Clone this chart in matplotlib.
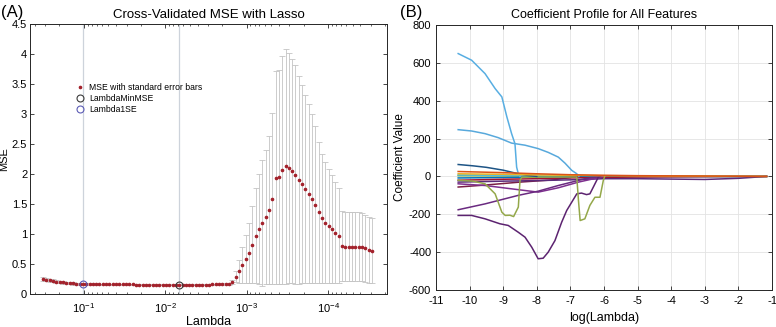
import numpy as np
import matplotlib
matplotlib.use("Agg")
import matplotlib.pyplot as plt
from matplotlib.ticker import FixedLocator, FuncFormatter

plt.rcParams['font.family'] = ['Liberation Sans', 'DejaVu Sans']
plt.rcParams['axes.unicode_minus'] = False

# ---------------- Panel A data ----------------
LAMBDA_MAX = 10 ** -0.497
LAMBDA_MIN = 10 ** -4.538

MSE_LEFT = [0.255, 0.240, 0.228, 0.217, 0.207, 0.199, 0.192, 0.186, 0.181, 0.176,
            0.172, 0.169, 0.166, 0.165, 0.164, 0.164, 0.163, 0.163, 0.162, 0.162,
            0.161, 0.161, 0.160, 0.160, 0.160, 0.159, 0.159, 0.159, 0.158, 0.158,
            0.158, 0.157, 0.157, 0.157, 0.157, 0.156, 0.156, 0.156, 0.156, 0.156,
            0.155, 0.155, 0.155, 0.155, 0.156, 0.156, 0.156, 0.157, 0.157, 0.158,
            0.158, 0.159, 0.160, 0.161, 0.163, 0.166, 0.172]
SE_LEFT = [0.030, 0.028, 0.026, 0.025, 0.024, 0.022, 0.021, 0.020, 0.019, 0.018,
           0.017, 0.016, 0.015, 0.014, 0.014, 0.013, 0.013, 0.012, 0.012, 0.012,
           0.012, 0.012, 0.012, 0.012, 0.012, 0.012, 0.012, 0.012, 0.012, 0.012,
           0.012, 0.012, 0.012, 0.012, 0.012, 0.012, 0.012, 0.012, 0.012, 0.012,
           0.012, 0.012, 0.012, 0.012, 0.012, 0.012, 0.012, 0.012, 0.012, 0.012,
           0.012, 0.012, 0.013, 0.013, 0.014, 0.015, 0.018]
MSE_RISE = [0.20, 0.29, 0.38, 0.48, 0.58, 0.68, 0.82, 0.97, 1.08, 1.19,
            1.28, 1.40, 1.59, 1.94, 1.95, 2.07, 2.13, 2.10, 2.05, 1.99,
            1.90, 1.83, 1.75, 1.67, 1.59, 1.49, 1.36, 1.26, 1.19, 1.13,
            1.08, 1.02, 0.97, 0.80, 0.79, 0.79, 0.79, 0.79, 0.79, 0.78,
            0.76, 0.74, 0.72]
SE_RISE = [0.03, 0.09, 0.19, 0.30, 0.40, 0.50, 0.64, 0.79, 0.92, 1.05,
           1.12, 1.24, 1.42, 1.77, 1.78, 1.90, 1.96, 1.92, 1.87, 1.82,
           1.73, 1.65, 1.57, 1.49, 1.41, 1.31, 1.18, 1.08, 1.01, 0.95,
           0.90, 0.84, 0.79, 0.59, 0.58, 0.58, 0.58, 0.58, 0.58, 0.57,
           0.56, 0.55, 0.54]
IDX_1SE = 12
IDX_MIN = 41
A_XTICKS = [1e-1, 1e-2, 1e-3, 1e-4]
A_YTICKS = [0, 0.5, 1, 1.5, 2, 2.5, 3, 3.5, 4, 4.5]

# ---------------- Panel B data ----------------
B_XTICKS = [-11, -10, -9, -8, -7, -6, -5, -4, -3, -2, -1]
B_YTICKS = [-600, -400, -200, 0, 200, 400, 600, 800]

LOGL_BLUE_TOP = [-10.34, -9.94, -9.54, -9.24, -9.04, -8.89, -8.75, -8.65, -8.60, -8.55, -8.50]
COEF_BLUE_TOP = [649, 614, 543, 464, 420, 314, 226, 173, 49, 14, 0]

LOGL_BLUE_2 = [-10.34, -9.94, -9.54, -9.15, -8.75, -8.35, -7.96, -7.66, -7.36, -7.16, -6.96, -6.81, -6.75]
COEF_BLUE_2 = [247, 240, 226, 205, 176, 165, 147, 127, 102, 70, 32, 14, 0]

LOGL_NAVY = [-10.34, -9.9, -9.5, -9.0, -8.55, -8.3, -8.0]
COEF_NAVY = [63, 56, 48, 33, 14, 6, 0]

LOGL_GREEN = [-10.34, -9.9, -9.54, -9.24, -9.04, -8.94, -8.80, -8.69, -8.55, -8.50, -8.45,
              -8.0, -7.5, -7.0, -6.81, -6.76, -6.71, -6.57, -6.42, -6.27, -6.12, -6.02, -5.98]
COEF_GREEN = [-20, -25, -39, -92, -189, -206, -205, -212, -162, -21, -5,
              -4, -3, -3, -3, -127, -233, -224, -153, -110, -110, -21, 0]

LOGL_PURPLE_DIP = [-10.34, -9.94, -9.54, -9.10, -8.85, -8.55, -8.35, -8.15, -7.96, -7.81, -7.66,
                   -7.46, -7.26, -7.11, -6.96, -6.81, -6.67, -6.52, -6.42, -6.32, -6.17, -6.12]
COEF_PURPLE_DIP = [-206, -206, -224, -250, -259, -295, -321, -374, -435, -432, -400,
                   -339, -242, -180, -136, -92, -88, -96, -92, -57, -4, 0]

LOGL_PURPLE_LIN = [-10.34, -9.54, -8.55, -7.96, -7.36, -6.96, -6.57, -6.10]
COEF_PURPLE_LIN = [-176, -145, -100, -78, -48, -30, -12, 0]

LOGL_PURPLE_3 = [-10.34, -9.54, -8.55, -7.96, -7.36, -6.76, -6.00]
COEF_PURPLE_3 = [-39, -48, -70, -83, -60, -30, 0]

LOGL_DARKRED = [-10.34, -9.5, -8.5, -7.5, -6.8]
COEF_DARKRED = [-56, -45, -30, -18, 0]

NZ_LOGL = [-10.34, -9.0, -8.0, -7.0, -6.0, -5.0, -4.0, -3.0, -2.0, -1.16]
NZ_PURPLE_LONG = [-30, -25, -22, -18, -12, -12, -14, -16, -10, 0]
NZ_BLUE = [-8, -6, -4, -2, -1, 0, 0, 0, 0, 0]
NZ_DARKRED = [-20, -15, -12, -8, -5, -3, -2, -1, 0, 0]
NZ_LIGHTBLUE = [8, 6, 3, 0, 0, 0, 0, 0, 0, 0]
NZ_GREEN = [4, 3, 1, 0, 0, 0, 0, 0, 0, 0]
NZ_ORANGE = [26, 20, 14, 9, 6, 4, 3, 2, 1, 0]
NZ_YELLOW = [14, 11, 8, 6, 4, 3, 2, 1.5, 0.8, 0]

# ---------------- Figure ----------------
W, H = 776, 327
fig = plt.figure(figsize=(W / 100, H / 100), dpi=100)
axA = fig.add_axes([30 / W, 33 / H, 357 / W, 270 / H])
axB = fig.add_axes([436 / W, 37 / H, 336 / W, 265 / H])

SPINE = '#262626'

# Panel A
mse = np.array(MSE_LEFT + MSE_RISE)
se = np.array(SE_LEFT + SE_RISE)
lam = np.geomspace(LAMBDA_MAX, LAMBDA_MIN, len(mse))

axA.set_xscale('log')
axA.set_xlim(10 ** -0.337, 10 ** -4.724)
axA.set_ylim(0, 4.5)
axA.axvline(lam[IDX_1SE], color='#cdd3db', lw=0.9, zorder=1)
axA.axvline(lam[IDX_MIN], color='#cdd3db', lw=0.9, zorder=1)
axA.errorbar(lam, mse, yerr=se, fmt='none', ecolor='#c4c4c4', elinewidth=0.6,
             capsize=2.2, capthick=0.6, zorder=2)
hdot, = axA.plot(lam, mse, 'o', ms=1.6, color='#a3222c', mec='#a3222c', lw=0, zorder=3,
                 label='MSE with standard error bars')
hmin, = axA.plot([lam[IDX_MIN]], [mse[IDX_MIN]], 'o', ms=5, mfc='none', mec='#3a3a3a',
                 mew=0.8, zorder=4, label='LambdaMinMSE')
h1se, = axA.plot([lam[IDX_1SE]], [mse[IDX_1SE]], 'o', ms=5, mfc='none', mec='#5b5bb5',
                 mew=0.8, zorder=4, label='Lambda1SE')
leg = axA.legend(handles=[hdot, hmin, h1se], loc='upper left', bbox_to_anchor=(0.115, 0.795),
                 frameon=False, fontsize=6.2, handlelength=1.2, handletextpad=0.5,
                 labelspacing=0.25, borderaxespad=0)
axA.xaxis.set_major_locator(FixedLocator(A_XTICKS))
axA.yaxis.set_major_locator(FixedLocator(A_YTICKS))
axA.yaxis.set_major_formatter(FuncFormatter(lambda v, p: ('%g' % v)))
axA.tick_params(which='both', direction='in', top=True, right=True, labelsize=8, color=SPINE)
axA.tick_params(which='major', length=3, width=0.6)
axA.tick_params(which='minor', length=1.6, width=0.5)
axA.tick_params(axis='x', pad=5)
axA.tick_params(axis='y', pad=2)
for s in axA.spines.values():
    s.set_color(SPINE)
    s.set_linewidth(0.7)
axA.set_title('Cross-Validated MSE with Lasso', fontsize=9.5, pad=4)
axA.set_xlabel('Lambda', fontsize=9, labelpad=1)
axA.set_ylabel('MSE', fontsize=8, labelpad=2)
fig.text(1 / W, 1 - 12 / H, '(A)', fontsize=12, va='center', ha='left')

# Panel B
axB.set_xlim(-11, -1)
axB.set_ylim(-600, 800)
axB.set_xticks(B_XTICKS)
axB.set_yticks(B_YTICKS)
axB.grid(True, color='#e3e3e3', lw=0.6)
axB.set_axisbelow(True)
LW = 1.1
axB.plot(NZ_LOGL, NZ_GREEN, color='#77AC30', lw=LW)
axB.plot(NZ_LOGL, NZ_LIGHTBLUE, color='#4DBEEE', lw=LW)
axB.plot(NZ_LOGL, NZ_BLUE, color='#0072BD', lw=LW)
axB.plot(NZ_LOGL, NZ_DARKRED, color='#A2142F', lw=LW)
axB.plot(LOGL_DARKRED, COEF_DARKRED, color='#7a1f45', lw=LW)
axB.plot(NZ_LOGL, NZ_PURPLE_LONG, color='#5a2a7a', lw=LW)
axB.plot(LOGL_PURPLE_3, COEF_PURPLE_3, color='#7E2F8E', lw=LW)
axB.plot(LOGL_PURPLE_LIN, COEF_PURPLE_LIN, color='#6a2a80', lw=LW)
axB.plot(LOGL_PURPLE_DIP, COEF_PURPLE_DIP, color='#5c2370', lw=LW)
axB.plot(LOGL_GREEN, COEF_GREEN, color='#94a84a', lw=LW)
axB.plot(LOGL_NAVY, COEF_NAVY, color='#1d5485', lw=LW)
axB.plot(LOGL_BLUE_2, COEF_BLUE_2, color='#58a9dc', lw=LW)
axB.plot(LOGL_BLUE_TOP, COEF_BLUE_TOP, color='#58aee2', lw=LW)
axB.plot(NZ_LOGL, NZ_YELLOW, color='#EDB120', lw=LW)
axB.plot(NZ_LOGL, NZ_ORANGE, color='#D95319', lw=LW)
axB.tick_params(which='both', direction='in', top=True, right=True, labelsize=8,
                length=3, width=0.6, color=SPINE)
axB.tick_params(axis='x', pad=4)
for s in axB.spines.values():
    s.set_color(SPINE)
    s.set_linewidth(0.7)
axB.set_title('Coefficient Profile for All Features', fontsize=9, pad=5)
axB.set_xlabel('log(Lambda)', fontsize=9, labelpad=5)
axB.set_ylabel('Coefficient Value', fontsize=8.5, labelpad=2)
fig.text(400 / W, 1 - 12 / H, '(B)', fontsize=12, va='center', ha='left')

fig.savefig('out.png', dpi=100)
